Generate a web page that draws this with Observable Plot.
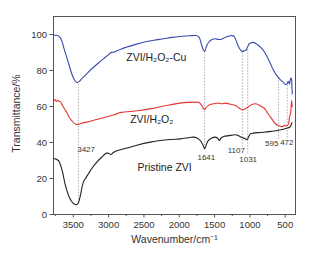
<!DOCTYPE html>
<html><head><meta charset="utf-8">
<script src="https://cdn.jsdelivr.net/npm/d3@7"></script>
<script src="https://cdn.jsdelivr.net/npm/@observablehq/plot@0.6"></script>
<style>body{margin:0;background:#fff} svg{display:block}</style>
</head><body><div id="chart"></div>
<script>
// ---- data ----
const seriesNames = ["ZVI/H₂O₂-Cu", "ZVI/H₂O₂", "Pristine ZVI"];

const cuWn = [3780,3740,3700,3664,3630,3593,3555,3522,3480,3451,3420,3380,3357,3290,3215,3140,3074,3010,2979,2950,2932,2900,2820,2742,2620,2506,2360,2223,2100,1986,1850,1760,1720,1690,1660,1641,1620,1584,1530,1489,1450,1418,1380,1347,1290,1252,1225,1205,1180,1159,1130,1111,1085,1064,1045,1035,1010,993,960,922,890,851,815,780,745,709,675,638,600,568,530,497,475,460,450,440,430,420,412,406,400];
const cuT  = [99.5,99.6,99,96.7,92,87.4,82.5,78.2,74.5,73.3,73.8,75.5,76.3,79,81.8,84.3,86.5,88.5,89.6,90.2,90.1,90.6,92,93,94.5,95.7,96.8,97.6,98.4,98.9,99.3,99.4,98.5,95,91.5,90.6,93,95.7,97.3,97.6,97.3,97.2,97.8,98.5,99.2,99.4,99,97.6,95,93,91.2,90.6,90.9,91.1,92,93,94.8,95.2,95.6,95.2,94.3,93,91.5,89.3,86.7,83.7,80.8,78.2,76.3,74.8,73.5,72.2,72.6,74,73.5,72.5,74.5,75.8,75.4,71,67];

const h2Wn = [3780,3760,3740,3720,3700,3680,3664,3630,3593,3560,3522,3480,3451,3420,3380,3309,3200,3074,2960,2884,2860,2800,2700,2553,2400,2200,1986,1850,1760,1726,1690,1660,1641,1620,1590,1550,1500,1442,1400,1340,1290,1252,1200,1160,1111,1075,1040,1000,960,922,880,840,804,760,709,670,638,600,575,543,510,490,472,455,440,425,415,408,402];
const h2T  = [63.2,63.8,62.8,63.5,62.9,62.6,61.5,59,56.8,54.2,52.2,50.5,50,50.2,50.8,51.3,52.5,53.7,55,55.9,56.4,56.8,57.2,57.8,58.8,60.4,61.9,62.3,62.4,62.3,61,59,58.2,59.5,60.5,61.2,61.6,61.9,61.5,61.9,61.4,61.1,60.5,59.3,58.2,58.5,59.3,60.5,61.3,61.5,61,60,59.3,57,54.1,52,50.4,49.5,49.2,48.9,49.5,49.2,49.4,50.2,54,56,61,63.5,60];

const zviWn = [3780,3750,3711,3690,3664,3640,3617,3580,3546,3510,3475,3450,3428,3400,3357,3320,3286,3230,3167,3100,3050,3025,3000,2968,2940,2908,2830,2742,2600,2411,2269,2100,1986,1850,1797,1750,1702,1670,1641,1620,1590,1540,1489,1450,1432,1410,1371,1300,1205,1160,1125,1090,1060,1040,1020,993,950,880,804,700,615,530,470,440,420,405];
const zviT  = [31.3,30.8,30,28.5,25.4,21.5,17,12,8.7,6.6,5.6,5.5,6.5,10.5,18,20.5,22.6,26,29.1,31.8,33.6,34.1,34,33.3,34.2,35,36,36.9,38.5,40.2,41.1,41.7,42,42.8,43,42.5,41.1,39,36.5,38.5,41,42.5,43,42.2,41.1,42.4,43.3,43.8,44.3,43.8,43,42.5,42,41.5,43,44.8,45.2,45.5,45.7,46.2,46.7,47.4,48,48.5,49.5,51];

const peakWn    = [3427, 1641, 1107, 1031, 595, 472];
const peakLabel = ["3427","1641","1107","1031","595","472"];
const peakLow   = [6.5, 36.5, 37.4, 34, 41.7, 42.4];
const peakHigh  = [73.3, 90.6, 91, 92, 75.5, 73];
const peakLabelWn = [3319, 1617, 1194, 1025, 691, 478];
const peakLabelT  = [36, 31.5, 35.6, 30.4, 39.3, 40.2];

const nameWn = [2750, 2695, 2591];
const nameT  = [87.2, 52.8, 26.3];

const xTicks = [3500, 3000, 2500, 2000, 1500, 1000, 500];
const xMinor = [3750, 3250, 2750, 2250, 1750, 1250, 750];
const yTicks = [0, 20, 40, 60, 80, 100];
const xTitle = "Wavenumber/cm⁻¹";
const yTitle = "Transmittance/%";

// ---- build tables ----
const rows = [];
[[cuWn, cuT], [h2Wn, h2T], [zviWn, zviT]].forEach(([w, t], i) =>
  w.forEach((v, j) => rows.push({series: seriesNames[i], wn: v, t: t[j]})));
const peaks = peakWn.map((w, i) => ({wn: w, lo: peakLow[i], hi: peakHigh[i], label: peakLabel[i], lx: peakLabelWn[i], ly: peakLabelT[i]}));
const names = seriesNames.map((n, i) => ({name: n, wn: nameWn[i], t: nameT[i]}));

const W = 314, H = 254, ML = 53, MR = 19, MT = 16, MB = 40;
const font = "Liberation Sans, Arial, sans-serif";
const chart = Plot.plot({
  width: W, height: H,
  marginLeft: ML, marginRight: MR, marginTop: MT, marginBottom: MB,
  style: {fontFamily: font, background: "#fff", color: "#333"},
  x: {domain: [3780, 355]},
  y: {domain: [0, 110]},
  color: {domain: seriesNames, range: ["#3749ad", "#e5352f", "#222222"]},
  marks: [
    Plot.ruleX(peaks, {x: "wn", y1: "lo", y2: "hi", stroke: "#9a9a9a", strokeWidth: 0.8, strokeDasharray: "1.5,1.5"}),
    Plot.line(rows, {x: "wn", y: "t", z: "series", stroke: "series", strokeWidth: 1.1, curve: "catmull-rom"}),
    Plot.text(names, {x: "wn", y: "t", text: "name", textAnchor: "start", fontSize: 10.5, fill: "#222"}),
    Plot.text(peaks, {x: "lx", y: "ly", text: "label", fontSize: 8, fill: "#333"}),
    Plot.frame({stroke: "#555", strokeWidth: 1}),
    Plot.axisX({ticks: xTicks, tickFormat: d => String(d), tickSize: 3.5, tickPadding: 3, fontSize: 9.5, stroke: "#555", label: null}),
    Plot.axisX({ticks: xMinor, tickSize: 2, text: null, stroke: "#555", label: null}),
    Plot.axisY({ticks: yTicks, tickFormat: d => String(d), tickSize: 3.5, tickPadding: 3, fontSize: 9.5, stroke: "#555", label: null}),
    Plot.text([xTitle], {frameAnchor: "bottom", dy: 28, fontSize: 10.5, fill: "#333"}),
    Plot.text([yTitle], {frameAnchor: "middle", dx: -((W - ML - MR) / 2 + 37), dy: -2, rotate: -90, textAnchor: "middle", fontSize: 10.5, fill: "#333"})
  ]
});
document.getElementById("chart").appendChild(chart);
</script>
</body></html>
